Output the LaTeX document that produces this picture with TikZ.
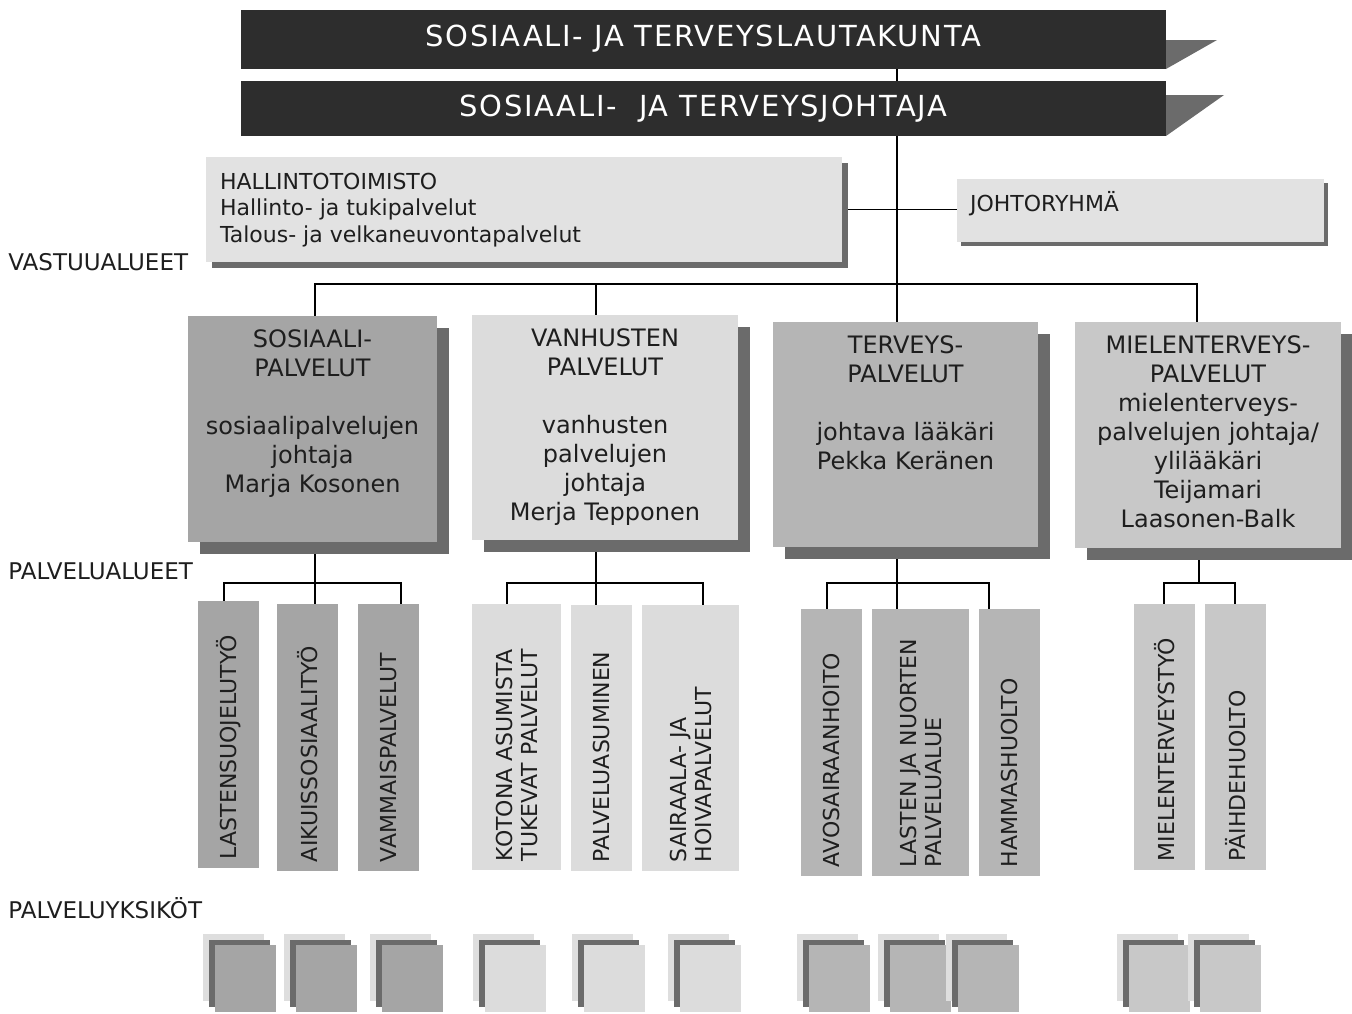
\documentclass[tikz,border=0pt]{standalone}
\usepackage{fontspec}
\setmainfont{DejaVu Sans}
\newfontfamily\titlefont[LetterSpace=6]{DejaVu Sans}
\usetikzlibrary{positioning,fit,shadows,backgrounds}

\definecolor{topgray}{RGB}{45,45,45}
\definecolor{shadowgray}{RGB}{107,107,107}
\definecolor{hallgray}{RGB}{226,226,226}
\definecolor{backgray}{RGB}{222,222,222}
\definecolor{sosgray}{RGB}{165,165,165}
\definecolor{vangray}{RGB}{220,220,220}
\definecolor{tergray}{RGB}{181,181,181}
\definecolor{miegray}{RGB}{200,200,200}
\definecolor{textgray}{RGB}{30,30,30}

\begin{document}
\begin{tikzpicture}[x=0.5pt, y=-0.5pt, every node/.style={text=textgray, inner sep=0pt},
  box/.style={draw=none, inner sep=0pt},
  topbox/.style={box, fill=topgray},
  toptext/.style={text=white, font=\titlefont\fontsize{14.5}{16}\selectfont},
  areabox/.style={box, copy shadow={shadow xshift=6pt, shadow yshift=-6pt, fill=shadowgray, draw=none}},
  areatext/.style={align=center, font=\fontsize{12}{14.5}\selectfont},
  fieldtext/.style={rotate=90, anchor=west, align=left, font=\fontsize{11}{12.5}\selectfont},
  unitsq/.style={box, copy shadow={shadow xshift=-6pt, shadow yshift=5.5pt, fill=backgray, draw=none},
    copy shadow={shadow xshift=-3pt, shadow yshift=2.75pt, fill=shadowgray, draw=none}},
  sidelabel/.style={anchor=west, font=\fontsize{11.5}{14}\selectfont},
  conn/.style={draw=black, line width=0.8pt}]
  \useasboundingbox (0,0) rectangle (1352,1013);

  % Top boxes
  \fill[shadowgray] (1166,40) -- (1217,40) -- (1166,69) -- cycle;
  \fill[shadowgray] (1166,95) -- (1224,95) -- (1166,136) -- cycle;
  \node[topbox, fit={(241,10) (1166,69)}] (lauta) {};
  \node[toptext] (lautatxt) at ([yshift=0.25pt]lauta.center) {SOSIAALI- JA TERVEYSLAUTAKUNTA};
  \node[topbox, fit={(241,81) (1166,136)}] (johtaja) {};
  \node[toptext] (johtajatxt) at ([yshift=-0.25pt]johtaja.center) {SOSIAALI-\ \ JA TERVEYSJOHTAJA};

  \node[box, fill=hallgray, copy shadow={shadow xshift=3pt, shadow yshift=-3pt, fill=shadowgray, draw=none},
    fit={(206,157) (842,262)}] (hall) {};
  \node[below right=8pt and 7pt of hall.north west, align=left, font=\fontsize{11}{13.3}\selectfont] (halltxt)
    {HALLINTOTOIMISTO\\Hallinto- ja tukipalvelut\\Talous- ja velkaneuvontapalvelut};

  \node[box, fill=hallgray, copy shadow={shadow xshift=2pt, shadow yshift=-2pt, fill=shadowgray, draw=none},
    fit={(957,179) (1324,242)}] (johto) {};
  \node[below right=6pt and 6.5pt of johto.north west, font=\fontsize{11}{13.3}\selectfont] (johtotxt) {JOHTORYHMÄ};

  % Side labels
  \node[sidelabel] (vast) at (8,262) {VASTUUALUEET};
  \node[sidelabel] (palal) at (8,571) {PALVELUALUEET};
  \node[sidelabel] (palyk) at (8,908) {PALVELUYKSIKÖT};

  % Vastuualueet
  \node[areabox, fill=sosgray, fit={(188,316) (437,542)}] (sos) {};
  \node[areatext, below=7pt of sos.north] (sostxt)
    {SOSIAALI-\\PALVELUT\\[14.5pt]sosiaalipalvelujen\\johtaja\\Marja Kosonen};
  \node[areabox, fill=vangray, fit={(472,315) (738,540)}] (van) {};
  \node[areatext, below=7pt of van.north] (vantxt)
    {VANHUSTEN\\PALVELUT\\[14.5pt]vanhusten\\palvelujen\\johtaja\\Merja Tepponen};
  \node[areabox, fill=tergray, fit={(773,322) (1038,547)}] (ter) {};
  \node[areatext, below=7pt of ter.north] (tertxt)
    {TERVEYS-\\PALVELUT\\[14.5pt]johtava lääkäri\\Pekka Keränen};
  \node[areabox, fill=miegray, fit={(1075,322) (1341,548)}] (mie) {};
  \node[areatext, below=7pt of mie.north] (mietxt)
    {MIELENTERVEYS-\\PALVELUT\\mielenterveys-\\palvelujen johtaja/\\ylilääkäri\\Teijamari\\Laasonen-Balk};

  % Palvelualueet
  \node[box, fill=sosgray, fit={(198,601) (259,868)}] (lasu) {};
  \node[fieldtext] (lasutxt) at ([yshift=4.5pt]lasu.south) {LASTENSUOJELUTYÖ};
  \node[box, fill=sosgray, fit={(277,604) (338,871)}] (aikui) {};
  \node[fieldtext] (aikuitxt) at ([yshift=4.5pt]aikui.south) {AIKUISSOSIAALITYÖ};
  \node[box, fill=sosgray, fit={(358,604) (419,871)}] (vamm) {};
  \node[fieldtext] (vammtxt) at ([yshift=4.5pt]vamm.south) {VAMMAISPALVELUT};

  \node[box, fill=vangray, fit={(472,604) (561,870)}] (koto) {};
  \node[fieldtext] (kototxt) at ([yshift=4.5pt]koto.south) {KOTONA ASUMISTA\\TUKEVAT PALVELUT};
  \node[box, fill=vangray, fit={(571,605) (632,871)}] (pasu) {};
  \node[fieldtext] (pasutxt) at ([yshift=4.5pt]pasu.south) {PALVELUASUMINEN};
  \node[box, fill=vangray, fit={(642,605) (739,871)}] (sair) {};
  \node[fieldtext] (sairtxt) at ([yshift=4.5pt]sair.south) {SAIRAALA- JA\\HOIVAPALVELUT};

  \node[box, fill=tergray, fit={(801,609) (862,876)}] (avo) {};
  \node[fieldtext] (avotxt) at ([yshift=4.5pt]avo.south) {AVOSAIRAANHOITO};
  \node[box, fill=tergray, fit={(872,609) (969,876)}] (lanu) {};
  \node[fieldtext] (lanutxt) at ([yshift=4.5pt]lanu.south) {LASTEN JA NUORTEN\\PALVELUALUE};
  \node[box, fill=tergray, fit={(979,609) (1040,876)}] (hamm) {};
  \node[fieldtext] (hammtxt) at ([yshift=4.5pt]hamm.south) {HAMMASHUOLTO};

  \node[box, fill=miegray, fit={(1134,604) (1195,870)}] (miety) {};
  \node[fieldtext] (mietytxt) at ([yshift=4.5pt]miety.south) {MIELENTERVEYSTYÖ};
  \node[box, fill=miegray, fit={(1205,604) (1266,870)}] (paih) {};
  \node[fieldtext] (paihtxt) at ([yshift=4.5pt]paih.south) {PÄIHDEHUOLTO};

  % Palveluyksiköt
  \foreach \x/\c [count=\i] in {203/sosgray, 284/sosgray, 370/sosgray, 473/vangray, 572/vangray, 668/vangray,
      797/tergray, 878/tergray, 946/tergray, 1117/miegray, 1188/miegray}
    \node[unitsq, fill=\c, fit={(\x+12,945) (\x+73,1012)}] (yks\i) {};

  % Edges
  \begin{scope}[on background layer]
    \coordinate (b1) at (315,284);
    \coordinate (b2) at (596,284);
    \coordinate (b3) at (897,284);
    \coordinate (b4) at (1197,284);
    \coordinate (s1) at (224,583);
    \coordinate (s2) at (315,583);
    \coordinate (s3) at (401,583);
    \coordinate (v1) at (507,583);
    \coordinate (v2) at (596,583);
    \coordinate (v3) at (703,583);
    \coordinate (t1) at (827,583);
    \coordinate (t2) at (897,583);
    \coordinate (t3) at (989,583);
    \coordinate (m1) at (1164,583);
    \coordinate (m2) at (1199,583);
    \coordinate (m3) at (1235,583);

    \draw[conn] (lauta.south -| b3) -- (johtaja.north -| b3);
    \draw[conn] (johtaja.south -| b3) -- (b3 |- ter.north);
    \draw[conn] (hall.east) -- (hall.east -| johto.west);
    \draw[conn] (b1 |- sos.north) -- (b1) -- (b4) -- (b4 |- mie.north);
    \draw[conn] (b2) -- (b2 |- van.north);

    \draw[conn] (sos.south -| s2) -- (s2 |- aikui.north);
    \draw[conn] (s1 |- lasu.north) -- (s1) -- (s3) -- (s3 |- vamm.north);
    \draw[conn] (van.south -| v2) -- (v2 |- pasu.north);
    \draw[conn] (v1 |- koto.north) -- (v1) -- (v3) -- (v3 |- sair.north);
    \draw[conn] (ter.south -| t2) -- (t2 |- lanu.north);
    \draw[conn] (t1 |- avo.north) -- (t1) -- (t3) -- (t3 |- hamm.north);
    \draw[conn] (mie.south -| m2) -- (m2);
    \draw[conn] (m1 |- miety.north) -- (m1) -- (m3) -- (m3 |- paih.north);
  \end{scope}
\end{tikzpicture}
\end{document}
